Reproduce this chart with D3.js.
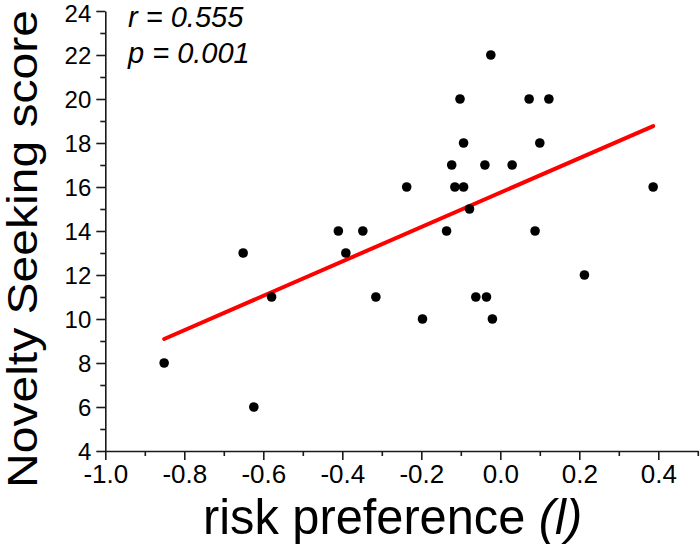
<!DOCTYPE html>
<html>
<head>
<meta charset="utf-8">
<script src="https://cdn.jsdelivr.net/npm/d3@7"></script>
<style>
  html, body { margin: 0; padding: 0; background: #fff; }
  svg { display: block; font-family: "Liberation Sans", Arial, sans-serif; }
</style>
</head>
<body>
<svg id="chart" width="700" height="545"></svg>
<script>
// ---- data ----
const riskPref = [-0.410, -0.348, -0.024, -0.102, 0.073, 0.123, -0.093, 0.100, -0.123, -0.039,
                  0.030, -0.237, -0.115, -0.093, 0.387, -0.078, -0.136, 0.088, -0.651, -0.391,
                  -0.579, -0.315, -0.851, -0.624, -0.197, -0.062, -0.035, -0.020, 0.213];
const noveltyScore = [14, 14, 22, 20, 20, 20, 18, 18, 17, 17,
                      17, 16, 16, 16, 16, 15, 14, 14, 13, 13,
                      11, 11, 8, 6, 10, 11, 11, 10, 12];
const fitX = [-0.851, 0.387];
const fitY = [9.09, 18.77];
const xTicks = [-1.0, -0.8, -0.6, -0.4, -0.2, 0.0, 0.2, 0.4];
const yTicks = [4, 6, 8, 10, 12, 14, 16, 18, 20, 22, 24];
const statLabels = ["r = 0.555", "p = 0.001"];

const svg = d3.select("#chart");
const x = d3.scaleLinear().domain([-1.0, 0.5]).range([105.3, 697.8]);
const y = d3.scaleLinear().domain([4, 24]).range([451, 11]);

const axisColor = "#1a1a1a";

// minor ticks
const xMinor = d3.range(-0.9, 0.51, 0.2).map(v => +v.toFixed(1));
const yMinor = d3.range(5, 24, 2);

const gx = svg.append("g").attr("transform", `translate(0,${y(4)})`);
gx.call(d3.axisBottom(x).tickValues(xMinor).tickSize(5).tickFormat(""));
gx.call(g => g.selectAll(".domain").remove());
const gx2 = svg.append("g").attr("transform", `translate(0,${y(4)})`);
gx2.call(d3.axisBottom(x).tickValues(xTicks).tickSize(9).tickSizeOuter(0).tickPadding(5)
  .tickFormat(d => d3.format(".1f")(d).replace("−", "-")));

const gy = svg.append("g").attr("transform", `translate(${x(-1.0)},0)`);
gy.call(d3.axisLeft(y).tickValues(yMinor).tickSize(5).tickFormat(""));
gy.call(g => g.selectAll(".domain").remove());
const gy2 = svg.append("g").attr("transform", `translate(${x(-1.0)},0)`);
gy2.call(d3.axisLeft(y).tickValues(yTicks).tickSize(9).tickSizeOuter(0).tickPadding(5));

svg.selectAll(".domain, .tick line").attr("stroke", axisColor).attr("stroke-width", 1.6);
gx2.selectAll(".tick text").attr("font-size", 26).attr("fill", "#000")
  .attr("font-family", "Liberation Sans, Arial, sans-serif").attr("dy", "0.71em");
gy2.selectAll(".tick text").attr("font-size", 24).attr("fill", "#000")
  .attr("font-family", "Liberation Sans, Arial, sans-serif").attr("dy", "0.36em");
gy2.selectAll(".tick").filter(d => d === 24).select("text").attr("dy", "0.42em");

// regression line
svg.append("line")
  .attr("x1", x(fitX[0])).attr("y1", y(fitY[0]))
  .attr("x2", x(fitX[1])).attr("y2", y(fitY[1]))
  .attr("stroke", "#ff0000").attr("stroke-width", 4).attr("stroke-linecap", "round");

// points
svg.append("g").selectAll("circle")
  .data(riskPref.map((v, i) => [v, noveltyScore[i]]))
  .join("circle")
  .attr("cx", d => x(d[0])).attr("cy", d => y(d[1]))
  .attr("r", 4.8).attr("fill", "#000");

// stats
svg.append("g").selectAll("text").data(statLabels).join("text")
  .attr("x", 128).attr("y", (d, i) => 27 + i * 36)
  .attr("font-size", 29).attr("font-style", "italic").attr("fill", "#000")
  .text(d => d);

// axis titles
const xt = svg.append("text")
  .attr("transform", "translate(203,534.4) scale(0.975,1)")
  .attr("font-size", 50).attr("fill", "#000");
xt.append("tspan").text("risk preference ");
xt.append("tspan").attr("font-style", "italic").text("(l)");

svg.append("text")
  .attr("transform", `translate(37,488) rotate(-90)`)
  .attr("font-size", 42).attr("fill", "#000")
  .attr("textLength", 478).attr("lengthAdjust", "spacingAndGlyphs")
  .text("Novelty Seeking score");
</script>
</body>
</html>
